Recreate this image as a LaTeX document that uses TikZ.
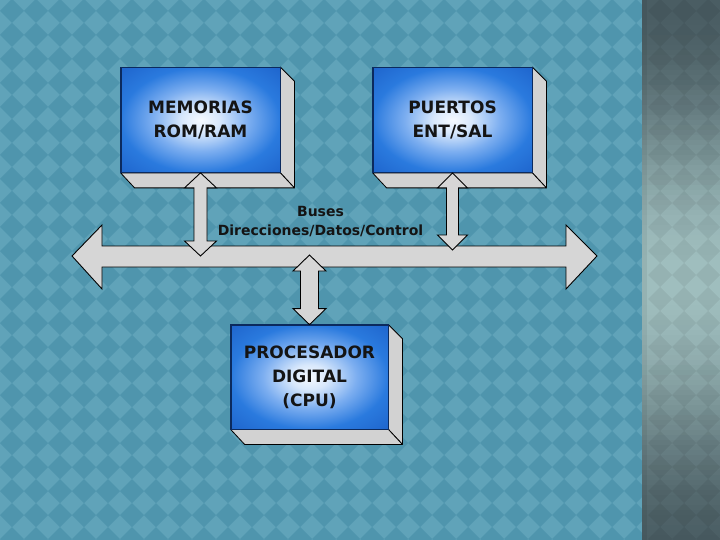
\documentclass[tikz,border=0pt]{standalone}
\usepackage{fontspec}
\setmainfont{DejaVu Sans}
\usetikzlibrary{calc}
\definecolor{bgteal}{HTML}{60A3B9}
\definecolor{dkteal}{HTML}{4F95AD}
\definecolor{stripdk}{HTML}{4A5D63}
\definecolor{stripmid}{HTML}{A0BFBF}
\definecolor{boxedge}{HTML}{0B2A5E}
\definecolor{extgray}{HTML}{D2D2D2}
\definecolor{blkgray}{HTML}{D6D6D6}
\definecolor{textdk}{HTML}{141414}
\pgfdeclareradialshading{boxshade}{\pgfpoint{0bp}{0bp}}{%
  color(0bp)=(rgb,255:red,246;green,250;blue,255);
  color(6bp)=(rgb,255:red,216;green,232;blue,252);
  color(15bp)=(rgb,255:red,124;green,174;blue,240);
  color(25bp)=(rgb,255:red,42;green,122;blue,222);
  color(36bp)=(rgb,255:red,30;green,100;blue,204);
  color(50bp)=(rgb,255:red,30;green,100;blue,204)}
\tikzset{
  frontbox/.style={draw=boxedge, line width=0.8pt, shading=boxshade,
    minimum width=159pt, minimum height=105pt, inner sep=0pt, align=center,
    text=textdk, font=\bfseries\fontsize{17}{24}\selectfont},
  extface/.style={fill=extgray, draw=black, line width=0.8pt, line join=round},
  blockarrow/.style={fill=blkgray, draw=black, line width=0.9pt, line join=miter},
  buslabel/.style={text=textdk, align=center, font=\bfseries\fontsize{14}{19}\selectfont}
}
\newcommand\extrude[1]{%
  \filldraw[extface] (#1.north east) -- ++(14,14) -- ($(#1.south east)+(14,15)$) -- (#1.south east) -- cycle;
  \filldraw[extface] (#1.south west) -- (#1.south east) -- ++(14,15) -- ($(#1.south west)+(14,15)$) -- cycle;
  \draw[boxedge, line width=0.8pt] (#1.north west) rectangle (#1.south east);
}
% vertical double block arrow: #1 top tip, #2 bottom tip, #3 shaft half width, #4 head half width, #5 head length
\newcommand\vblock[5]{%
  \filldraw[blockarrow] let \p1=(#1), \p2=(#2) in
    (\x1,\y1) -- (\x1+#4pt,\y1-#5pt) -- (\x1+#3pt,\y1-#5pt) -- (\x1+#3pt,\y2+#5pt)
    -- (\x1+#4pt,\y2+#5pt) -- (\x1,\y2) -- (\x1-#4pt,\y2+#5pt) -- (\x1-#3pt,\y2+#5pt)
    -- (\x1-#3pt,\y1-#5pt) -- (\x1-#4pt,\y1-#5pt) -- cycle;
}
\begin{document}
\begin{tikzpicture}[x=1pt,y=-1pt]
\useasboundingbox (0,0) rectangle (720,540);
% background
\fill[bgteal] (0,0) rectangle (720,540);
\fill[dkteal] \foreach \i in {0,...,26}{\foreach \j in {0,...,23}{
  (12+24*\i,-1+24*\j) -- ++(12,12) -- ++(-12,12) -- ++(-12,-12) -- cycle}};
% right strip: vertical gradient in bands
\foreach \k in {0,...,107}{
  \pgfmathtruncatemacro\f{50*(1+cos(abs(5*\k+2.5-280)/280*180))}
  \fill[stripmid!\f!stripdk] (642,5*\k) rectangle (720,5*\k+5.4);
}
\fill[black, opacity=0.06] \foreach \i in {27,...,30}{\foreach \j in {0,...,23}{
  (12+24*\i,-1+24*\j) -- ++(12,12) -- ++(-12,12) -- ++(-12,-12) -- cycle}};
\fill[black, opacity=0.06] (642,0) rectangle (647,540);

% boxes
\node[frontbox] (mem) at (200.5,120) {MEMORIAS\\ROM/RAM};
\extrude{mem}
\node[frontbox] (pue) at (452.5,120) {PUERTOS\\ENT/SAL};
\extrude{pue}
\node[frontbox, minimum width=157pt, minimum height=104pt] (cpu) at (309.5,377) {PROCESADOR\\DIGITAL\\(CPU)};
\extrude{cpu}

% bus
\coordinate (busL) at (72,256);
\coordinate (busR) at (597,256);
\filldraw[blockarrow] (busL) -- (102,225) -- (102,246) -- (566,246) -- (566,225) -- (busR)
  -- (566,289) -- (566,267) -- (102,267) -- (102,289) -- cycle;
\node[buslabel] (lbl) at (320.5,222) {Buses\\Direcciones/Datos/Control};

% taps
\coordinate (memtap) at (200.5,256);
\coordinate (puetap) at (452.5,250);
\coordinate (cputap) at (309.5,255);
\vblock{mem.south}{memtap}{6.5}{16}{15}
\vblock{pue.south}{puetap}{6}{15}{15}
\vblock{cputap}{cpu.north}{9}{16.5}{16}
\end{tikzpicture}
\end{document}
